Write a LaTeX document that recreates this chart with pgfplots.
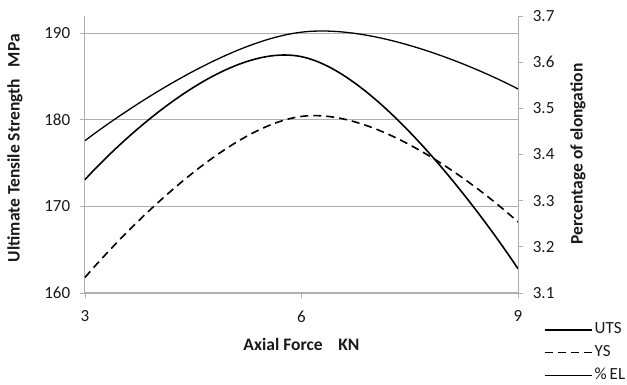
\documentclass[border=0pt]{standalone}
\usepackage{pgfplots}
\pgfplotsset{compat=1.18}
\usepackage{fontspec}
\setmainfont{Carlito}
\definecolor{axgray}{RGB}{175,175,175}
\definecolor{txt}{RGB}{25,25,25}
\begin{document}
\fontsize{17pt}{20pt}\selectfont
\begin{tikzpicture}
\pgfplotsset{
  common/.style={
    scale only axis, width=433pt, height=277pt,
    xmin=3, xmax=9,
    axis line style={-, axgray, line width=1pt},
    tick align=outside, major tick length=5pt,
    tick style={axgray, line width=0.9pt},
    ticklabel style={font=\fontsize{17pt}{20pt}\selectfont, text=txt},
    /pgf/number format/assume math mode=true,
    clip=false,
  }
}
\begin{axis}[common,
  ymin=160, ymax=192,
  axis y line*=left, axis x line*=bottom,
  xtick={3,6,9}, ytick={160,170,180,190},
  ymajorgrids, grid style={axgray, line width=0.9pt},
  yticklabel style={xshift=-4pt},
  xticklabel style={yshift=-7pt},
  xlabel={Axial Force\ \ \ \ KN},
  ylabel={Ultimate Tensile Strength\ \ \ MPa},
  every axis x label/.style={at={(axis description cs:0.5,-0.184)}, anchor=center,
    font=\bfseries\fontsize{17.5pt}{20pt}\selectfont, text=txt},
  every axis y label/.style={at={(axis description cs:-0.1617,0.523)}, anchor=center, rotate=90,
    font=\bfseries\fontsize{17.5pt}{20pt}\selectfont, text=txt},
]
\addplot[black, line width=1.6pt, smooth, tension=0.75] coordinates {(3,173.1) (6,187.3) (9,162.8)};
\addplot[black, line width=1.6pt, smooth, tension=0.75, dash pattern=on 8pt off 5pt] coordinates {(3,161.8) (6,180.4) (9,168.2)};
\end{axis}
\begin{axis}[common,
  ymin=3.1, ymax=3.7,
  axis y line*=right, axis x line=none,
  ytick={3.1,3.2,3.3,3.4,3.5,3.6,3.7},
  yticklabel style={xshift=4pt, /pgf/number format/.cd, fixed, precision=1, fixed zerofill},
  ylabel={Percentage of elongation},
  every axis y label/.style={at={(axis description cs:1.1386,0.502)}, anchor=center, rotate=90,
    font=\bfseries\fontsize{17.5pt}{20pt}\selectfont, text=txt},
  legend style={at={(axis description cs:1.053,-0.093)}, anchor=north west, draw=none, fill=none,
    font=\fontsize{17pt}{20pt}\selectfont, text=txt, row sep=5pt,
    nodes={inner sep=2pt}},
  legend cell align=left,
  legend image code/.code={\draw[#1] (0pt,0pt) -- (47pt,0pt);},
]
\addlegendimage{black, line width=1.6pt}
\addlegendentry{UTS}
\addlegendimage{black, line width=1.6pt, dash pattern=on 8pt off 5pt}
\addlegendentry{YS}
\addplot[black, line width=1.3pt, smooth, tension=0.75] coordinates {(3,3.43) (6,3.665) (9,3.542)};
\addlegendentry{\%\,EL}
\end{axis}
\pgfresetboundingbox
\path[use as bounding box] (-85pt,-92pt) rectangle (542pt,293pt);
\end{tikzpicture}
\end{document}
